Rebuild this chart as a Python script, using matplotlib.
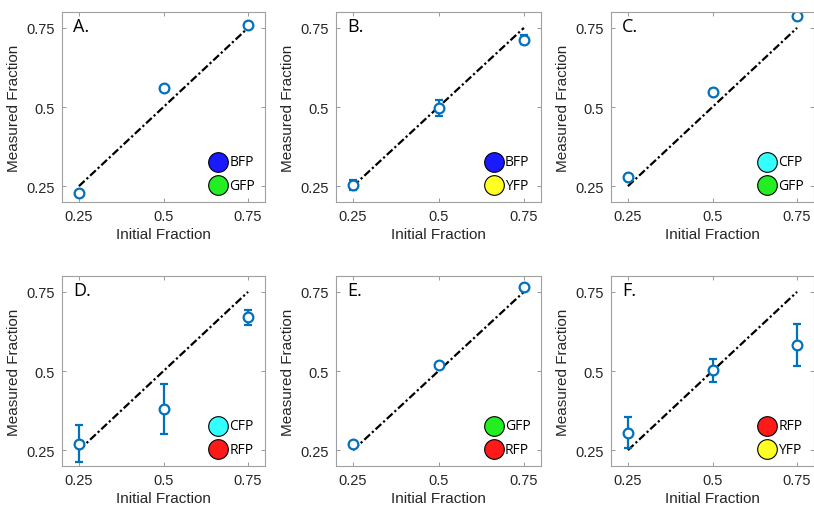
import matplotlib
matplotlib.use("Agg")
import matplotlib.pyplot as plt

# Initial fractions (x) shared by every panel
initial = [0.25, 0.5, 0.75]

# Measured fraction and error bar half-widths for each panel
panel_labels = ["A.", "B.", "C.", "D.", "E.", "F."]
measured_A = [0.228, 0.561, 0.760]
err_A = [0.006, 0.006, 0.006]
measured_B = [0.253, 0.497, 0.713]
err_B = [0.015, 0.025, 0.015]
measured_C = [0.279, 0.548, 0.786]
err_C = [0.007, 0.008, 0.006]
measured_D = [0.271, 0.380, 0.669]
err_D = [0.057, 0.078, 0.023]
measured_E = [0.271, 0.518, 0.764]
err_E = [0.006, 0.006, 0.006]
measured_F = [0.305, 0.502, 0.583]
err_F = [0.049, 0.036, 0.067]

# Fluorescent protein pairs shown as coloured dots
pair_names = [["BFP", "GFP"], ["BFP", "YFP"], ["CFP", "GFP"],
              ["CFP", "RFP"], ["GFP", "RFP"], ["RFP", "YFP"]]
fp_colors = {"BFP": "#1a1aff", "GFP": "#22ee22", "YFP": "#ffff22",
             "CFP": "#33ffff", "RFP": "#ff1a1a"}

measured = [measured_A, measured_B, measured_C, measured_D, measured_E, measured_F]
errors = [err_A, err_B, err_C, err_D, err_E, err_F]

W, H = 814, 506
fig = plt.figure(figsize=(W / 100, H / 100), dpi=100)
plt.rcParams['font.family'] = ['Liberation Sans', 'DejaVu Sans']

# axes boxes in pixels: left, top, width, height
lefts = [62, 336, 611]
widths = [203, 205, 203]
tops = [13, 277]
box_h = 190

blue = "#0072BD"
txt = "#262626"

for i in range(6):
    row, col = divmod(i, 3)
    l, t, w = lefts[col], tops[row], widths[col]
    ax = fig.add_axes([l / W, 1 - (t + box_h) / H, w / W, box_h / H])

    # identity line
    ax.plot([0.25, 0.75], [0.25, 0.75], color="black", lw=1.6,
            linestyle=(0, (3.5, 1.2, 1, 1.2)))
    ax.errorbar(initial, measured[i], yerr=errors[i], fmt="o", color=blue,
                mfc="white", mec=blue, ms=7, mew=1.6, elinewidth=1.6,
                capsize=3, capthick=1.6)

    # colour key
    for k, name in enumerate(pair_names[i]):
        yk = 0.327 - 0.074 * k
        ax.scatter([0.662], [yk], s=200, color=fp_colors[name],
                   edgecolor="black", linewidth=0.8, zorder=5)
        ax.text(0.695, yk, name, fontsize=10, family=["Open Sans", "DejaVu Sans"],
                va="center", ha="left", color="black")

    ax.text(0.055, 0.925, panel_labels[i], transform=ax.transAxes, fontsize=13,
            family=["Open Sans", "DejaVu Sans"], va="center", ha="left", color="black")

    ax.set_xlim(0.2, 0.8)
    ax.set_ylim(0.2, 0.8)
    ax.set_xticks([0.25, 0.5, 0.75])
    ax.set_xticklabels(["0.25", "0.5", "0.75"])
    ax.set_yticks([0.25, 0.5, 0.75])
    ax.set_yticklabels(["0.25", "0.5", "0.75"])
    ax.tick_params(direction="in", length=3, width=0.6, color="#888888",
                   labelsize=10.5, labelcolor=txt, top=True, right=True, pad=5)
    for sp in ax.spines.values():
        sp.set_color("#a0a0a0")
        sp.set_linewidth(0.8)
    ax.set_xlabel("Initial Fraction", fontsize=11, color=txt, labelpad=3)
    ax.set_ylabel("Measured Fraction", fontsize=11, color=txt, labelpad=4)

fig.savefig("out.png", dpi=100)
